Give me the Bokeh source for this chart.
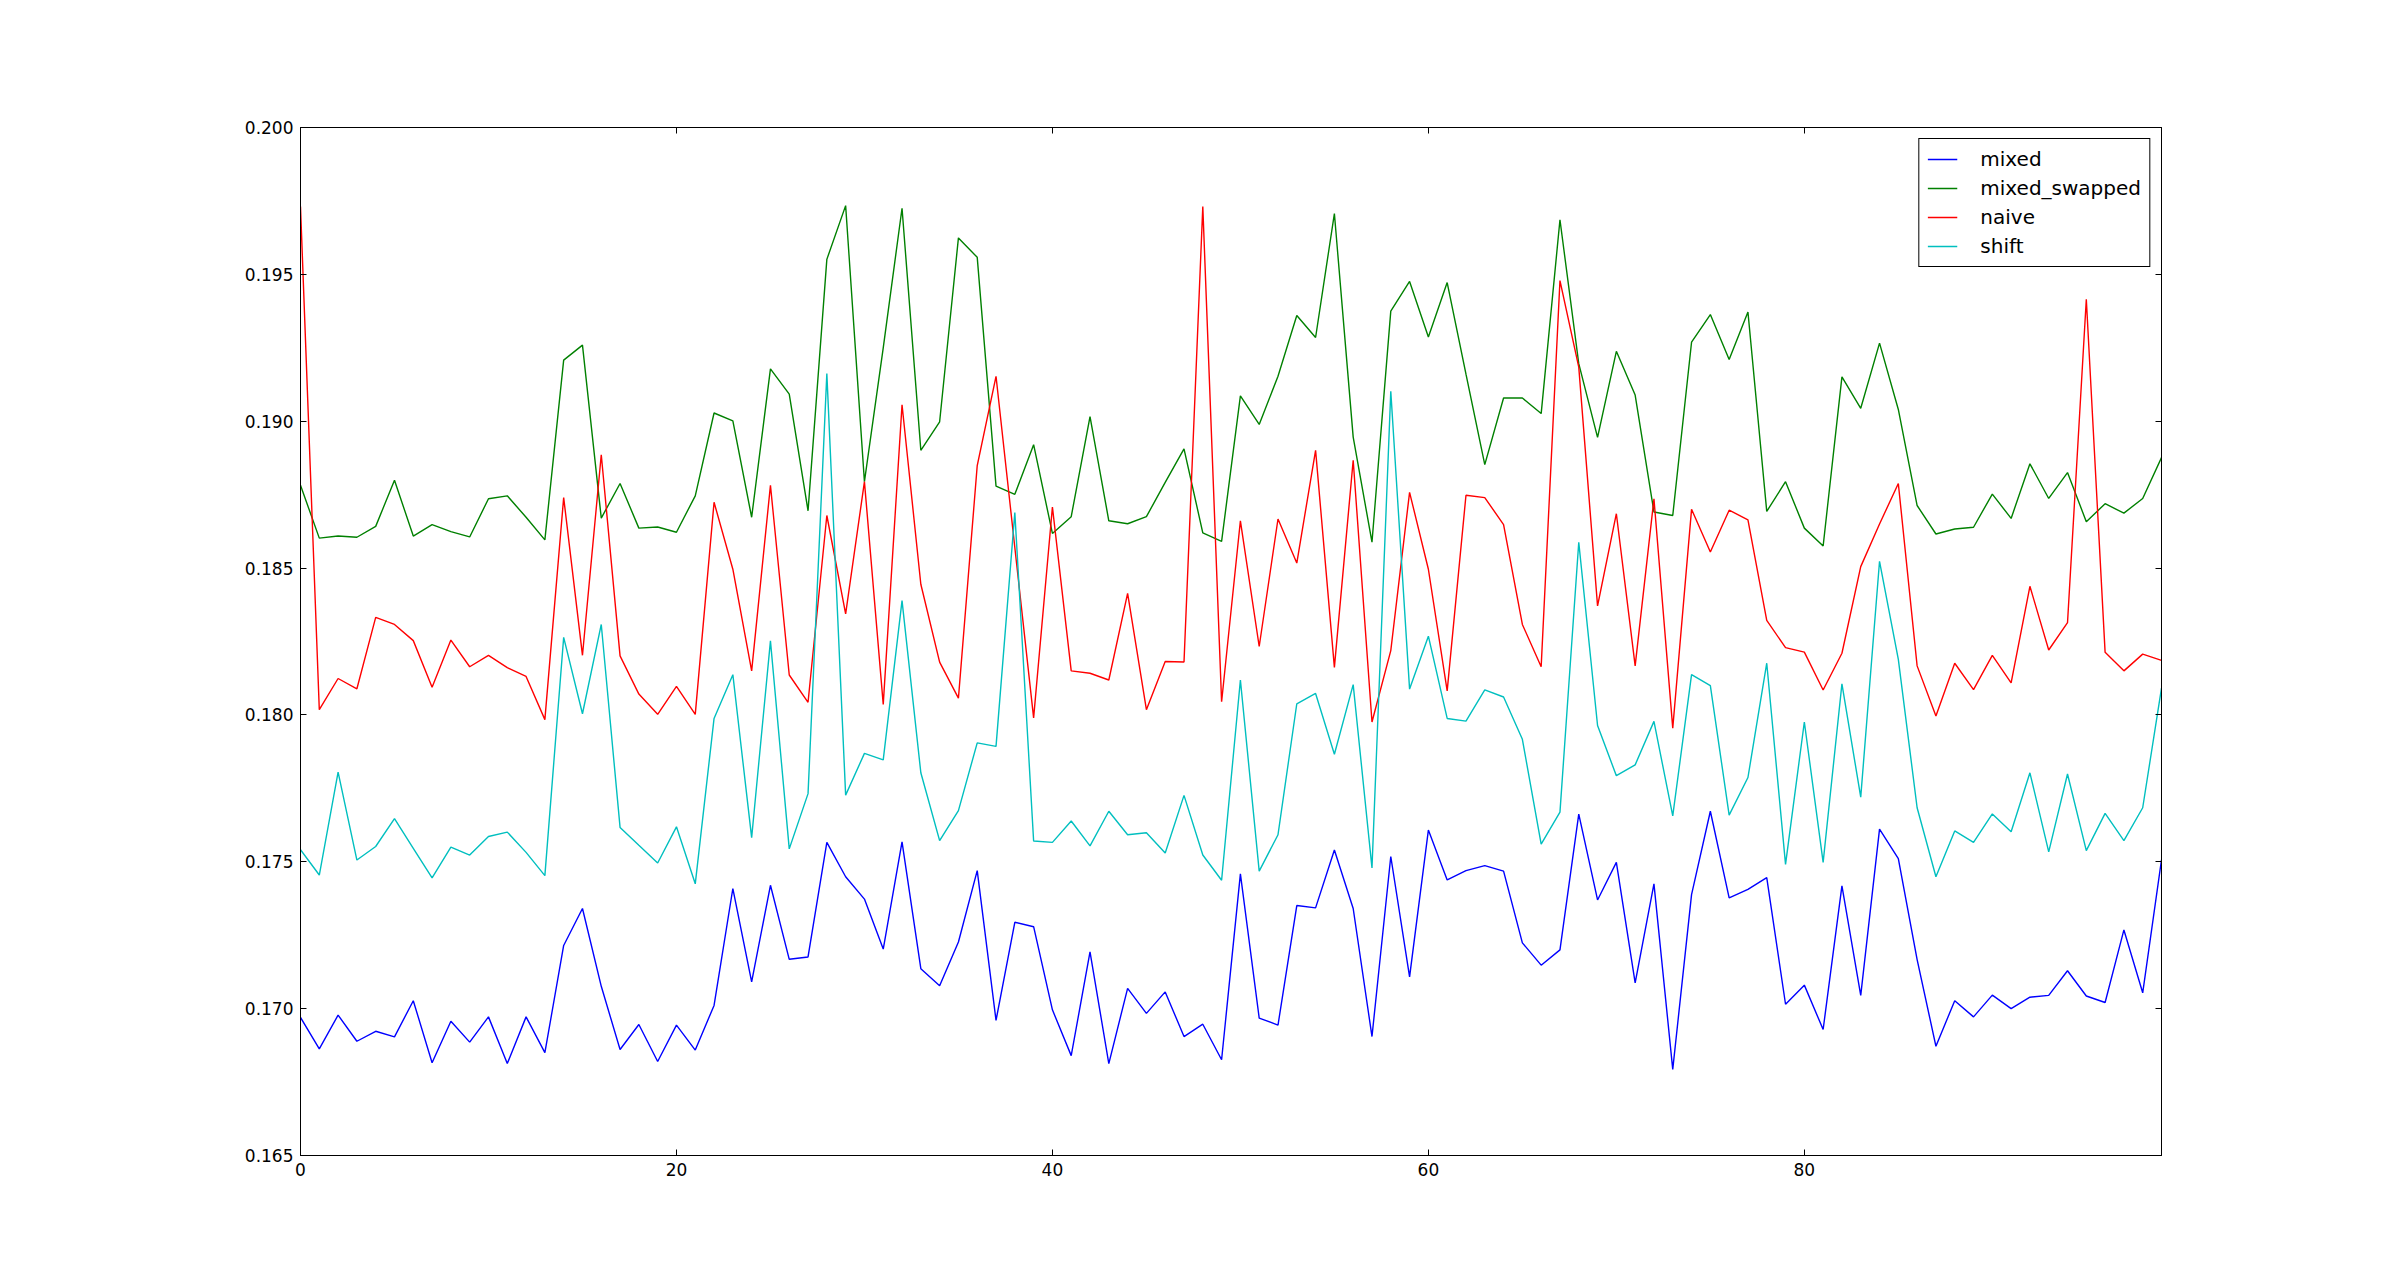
from bokeh.plotting import figure
from bokeh.models import LinearAxis, FixedTicker, NumeralTickFormatter, Legend, LegendItem, Range1d
from bokeh.embed import file_html
from bokeh.resources import INLINE

x = list(range(100))

mixed = [0.16970, 0.16863, 0.16978, 0.16889, 0.16923, 0.16904, 0.17027, 0.16816, 0.16957, 0.16886,
         0.16972, 0.16813, 0.16972, 0.16850, 0.17215, 0.17341, 0.17076, 0.16861, 0.16946, 0.16820,
         0.16944, 0.16859, 0.17011, 0.17409, 0.17091, 0.17420, 0.17168, 0.17176, 0.17566, 0.17449,
         0.17373, 0.17203, 0.17568, 0.17136, 0.17078, 0.17227, 0.17470, 0.16960, 0.17294, 0.17279,
         0.16996, 0.16840, 0.17193, 0.16813, 0.17069, 0.16984, 0.17057, 0.16905, 0.16947, 0.16826,
         0.17459, 0.16968, 0.16944, 0.17351, 0.17343, 0.17540, 0.17341, 0.16905, 0.17518, 0.17108,
         0.17608, 0.17438, 0.17470, 0.17487, 0.17468, 0.17224, 0.17148, 0.17200, 0.17662, 0.17370,
         0.17498, 0.17088, 0.17425, 0.16793, 0.17388, 0.17672, 0.17377, 0.17406, 0.17446, 0.17015,
         0.17080, 0.16929, 0.17418, 0.17045, 0.17611, 0.17511, 0.17167, 0.16872, 0.17027, 0.16972,
         0.17046, 0.17000, 0.17039, 0.17045, 0.17129, 0.17043, 0.17021, 0.17268, 0.17054, 0.17507]

mixed_swapped = [0.18782, 0.18602, 0.18609, 0.18605, 0.18642, 0.18799, 0.18609, 0.18648, 0.18624, 0.18606,
                 0.18736, 0.18746, 0.18673, 0.18596, 0.19208, 0.19259, 0.18670, 0.18788, 0.18636, 0.18640,
                 0.18622, 0.18746, 0.19028, 0.19001, 0.18673, 0.19178, 0.19092, 0.18695, 0.19551, 0.19734,
                 0.18794, 0.19250, 0.19725, 0.18901, 0.18998, 0.19624, 0.19558, 0.18779, 0.18751, 0.18920,
                 0.18618, 0.18675, 0.19016, 0.18661, 0.18651, 0.18675, 0.18792, 0.18906, 0.18620, 0.18591,
                 0.19086, 0.18989, 0.19153, 0.19360, 0.19285, 0.19707, 0.18946, 0.18588, 0.19375, 0.19476,
                 0.19287, 0.19472, 0.19160, 0.18852, 0.19079, 0.19079, 0.19026, 0.19686, 0.19196, 0.18945,
                 0.19238, 0.19089, 0.18691, 0.18679, 0.19269, 0.19363, 0.19210, 0.19372, 0.18693, 0.18794,
                 0.18636, 0.18575, 0.19151, 0.19044, 0.19266, 0.19040, 0.18713, 0.18616, 0.18633, 0.18639,
                 0.18752, 0.18669, 0.18855, 0.18737, 0.18825, 0.18658, 0.18719, 0.18687, 0.18737, 0.18876]

naive = [0.19731, 0.18018, 0.18124, 0.18089, 0.18332, 0.18308, 0.18253, 0.18094, 0.18255, 0.18164,
         0.18203, 0.18161, 0.18131, 0.17984, 0.18740, 0.18203, 0.18886, 0.18201, 0.18071, 0.18002,
         0.18097, 0.18002, 0.18724, 0.18496, 0.18150, 0.18782, 0.18136, 0.18043, 0.18679, 0.18344,
         0.18794, 0.18036, 0.19056, 0.18445, 0.18180, 0.18057, 0.18849, 0.19153, 0.18570, 0.17990,
         0.18708, 0.18150, 0.18142, 0.18119, 0.18414, 0.18018, 0.18182, 0.18180, 0.19731, 0.18045,
         0.18661, 0.18233, 0.18667, 0.18517, 0.18901, 0.18162, 0.18867, 0.17976, 0.18219, 0.18758,
         0.18496, 0.18082, 0.18748, 0.18740, 0.18648, 0.18308, 0.18164, 0.19479, 0.19184, 0.18371,
         0.18685, 0.18167, 0.18736, 0.17955, 0.18700, 0.18555, 0.18697, 0.18664, 0.18322, 0.18229,
         0.18214, 0.18085, 0.18210, 0.18505, 0.18650, 0.18788, 0.18167, 0.17996, 0.18176, 0.18086,
         0.18203, 0.18109, 0.18438, 0.18221, 0.18314, 0.19415, 0.18213, 0.18150, 0.18207, 0.18186]

shift = [0.17541, 0.17455, 0.17805, 0.17506, 0.17552, 0.17647, 0.17546, 0.17445, 0.17550, 0.17523,
         0.17586, 0.17601, 0.17532, 0.17453, 0.18264, 0.18004, 0.18308, 0.17617, 0.17556, 0.17496,
         0.17619, 0.17425, 0.17988, 0.18137, 0.17582, 0.18252, 0.17544, 0.17732, 0.19162, 0.17727,
         0.17869, 0.17847, 0.18389, 0.17803, 0.17572, 0.17674, 0.17905, 0.17893, 0.18689, 0.17571,
         0.17566, 0.17639, 0.17554, 0.17672, 0.17592, 0.17599, 0.17530, 0.17726, 0.17523, 0.17437,
         0.18119, 0.17468, 0.17592, 0.18038, 0.18073, 0.17866, 0.18103, 0.17479, 0.19102, 0.18088,
         0.18268, 0.17988, 0.17979, 0.18085, 0.18061, 0.17917, 0.17560, 0.17669, 0.18588, 0.17964,
         0.17793, 0.17830, 0.17978, 0.17656, 0.18137, 0.18100, 0.17659, 0.17787, 0.18176, 0.17491,
         0.17976, 0.17498, 0.18106, 0.17720, 0.18523, 0.18189, 0.17684, 0.17449, 0.17605, 0.17566,
         0.17663, 0.17602, 0.17803, 0.17534, 0.17799, 0.17538, 0.17665, 0.17572, 0.17684, 0.18091]

series_names = ["mixed", "mixed_swapped", "naive", "shift"]
series_values = [mixed, mixed_swapped, naive, shift]
series_colors = ["#0000ff", "#008000", "#ff0000", "#00bfbf"]

x_ticks = [0, 20, 40, 60, 80]
y_ticks = [0.165, 0.170, 0.175, 0.180, 0.185, 0.190, 0.195, 0.200]

FONT = "DejaVu Sans"

p = figure(width=2400, height=1283, output_backend="svg", toolbar_location=None,
           x_range=Range1d(0, 99), y_range=Range1d(0.165, 0.200),
           min_border_left=300, min_border_right=239, min_border_top=127, min_border_bottom=128,
           x_axis_location=None, y_axis_location=None)
p.grid.visible = False
p.outline_line_color = "black"
p.outline_line_width = 1
p.background_fill_color = "white"
p.border_fill_color = "white"

def style_axis(ax, show_labels):
    ax.axis_line_color = "black"
    ax.axis_line_width = 1
    ax.major_tick_in = 6
    ax.major_tick_out = 0
    ax.minor_tick_in = 0
    ax.minor_tick_out = 0
    ax.major_tick_line_color = "black"
    ax.major_label_text_font = FONT
    ax.major_label_text_font_size = "17px"
    ax.major_label_text_color = "black" if show_labels else None
    ax.major_label_standoff = 7

for loc, show in (("below", True), ("above", False)):
    ax = LinearAxis(ticker=FixedTicker(ticks=x_ticks))
    style_axis(ax, show)
    p.add_layout(ax, loc)

for loc, show in (("left", True), ("right", False)):
    ax = LinearAxis(ticker=FixedTicker(ticks=y_ticks), formatter=NumeralTickFormatter(format="0.000"))
    style_axis(ax, show)
    p.add_layout(ax, loc)

items = []
for name, vals, col in zip(series_names, series_values, series_colors):
    r = p.line(x, vals, line_color=col, line_width=1.4)
    items.append(LegendItem(label=name, renderers=[r]))

legend = Legend(items=items, location="top_right")
legend.label_text_font = FONT
legend.label_text_font_size = "20px"
legend.label_text_color = "black"
legend.glyph_width = 30
legend.glyph_height = 20
legend.label_height = 20
legend.label_standoff = 23
legend.spacing = 5
legend.padding = 8
legend.margin = 11
legend.border_line_color = "black"
legend.border_line_width = 1
legend.border_line_alpha = 1.0
legend.background_fill_alpha = 1.0
p.add_layout(legend)

open("out.html", "w").write(file_html(p, INLINE))
